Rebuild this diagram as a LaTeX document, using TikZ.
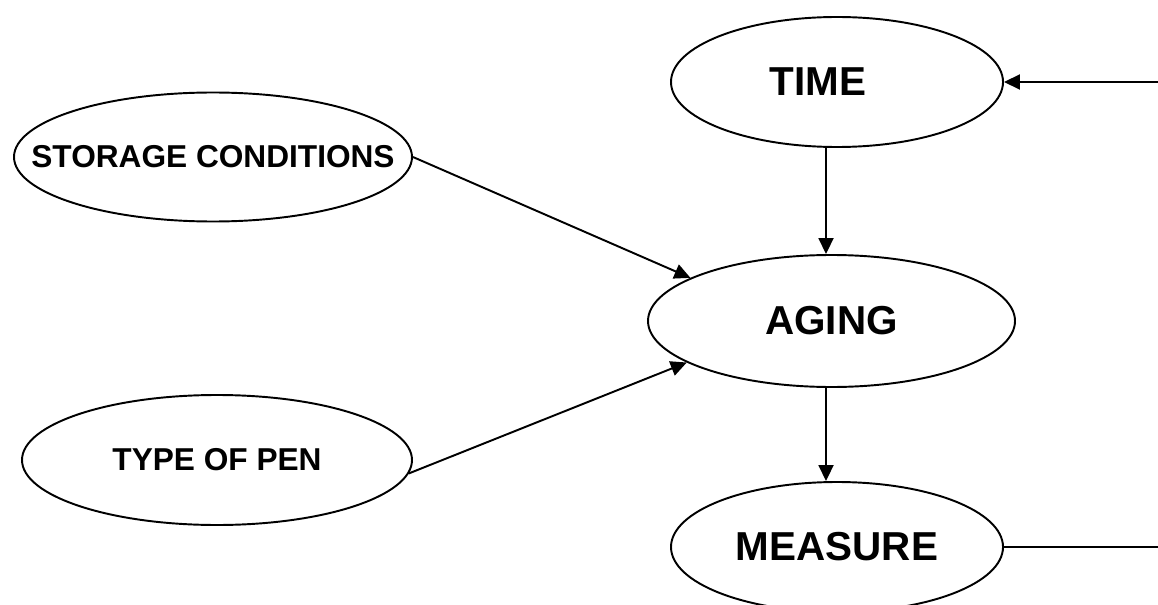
\documentclass[tikz,border=0pt]{standalone}
\usepackage{fontspec}
\setmainfont{Liberation Sans}
\usetikzlibrary{arrows.meta,shapes.geometric}

\begin{document}
\begin{tikzpicture}[
  font=\bfseries,
  bubble/.style={ellipse, draw=black, line width=1.1pt, inner sep=0pt,
    minimum width=6.64cm, minimum height=2.6cm,
    font=\bfseries\fontsize{23}{27}\selectfont},
  factor/.style={bubble, font=\bfseries\fontsize{18}{21}\selectfont},
  arrow/.style={-{Triangle[length=3.2mm,width=3mm]}, line width=1.1pt, black}
]
\useasboundingbox (0,0) rectangle (23.16,-12.1);
\clip (0,0) rectangle (23.16,-12.1);

% main chain
\node[bubble] (time) at (16.74,-1.64) {\makebox[0pt]{TIME\hspace*{.76cm}}};
\node[bubble, minimum width=7.34cm, minimum height=2.64cm] (aging) at (16.63,-6.42)
  {\makebox[0pt]{AGING}};
\node[bubble] (measure) at (16.74,-10.94) {\makebox[0pt]{MEASURE}};

% influencing factors
\node[factor, minimum width=7.96cm, minimum height=2.58cm] (storage) at (4.26,-3.14)
  {\makebox[0pt]{STORAGE CONDITIONS}};
\node[factor, minimum width=7.8cm] (pen) at (4.34,-9.2)
  {\makebox[0pt]{TYPE OF PEN}};

\coordinate (spine) at (16.52,0);
\coordinate (back) at (23.5,-6);

\draw[arrow] (spine |- time.south) -- (spine |- aging.north);
\draw[arrow] (spine |- aging.south) -- (spine |- measure.north);
\draw[arrow] (storage.east) -- (aging.163);
\draw[arrow] (pen.-4) -- (aging.196);

% feedback from measure back to time
\draw[arrow] (measure.east) -| (back) |- (time.east);
\end{tikzpicture}
\end{document}
